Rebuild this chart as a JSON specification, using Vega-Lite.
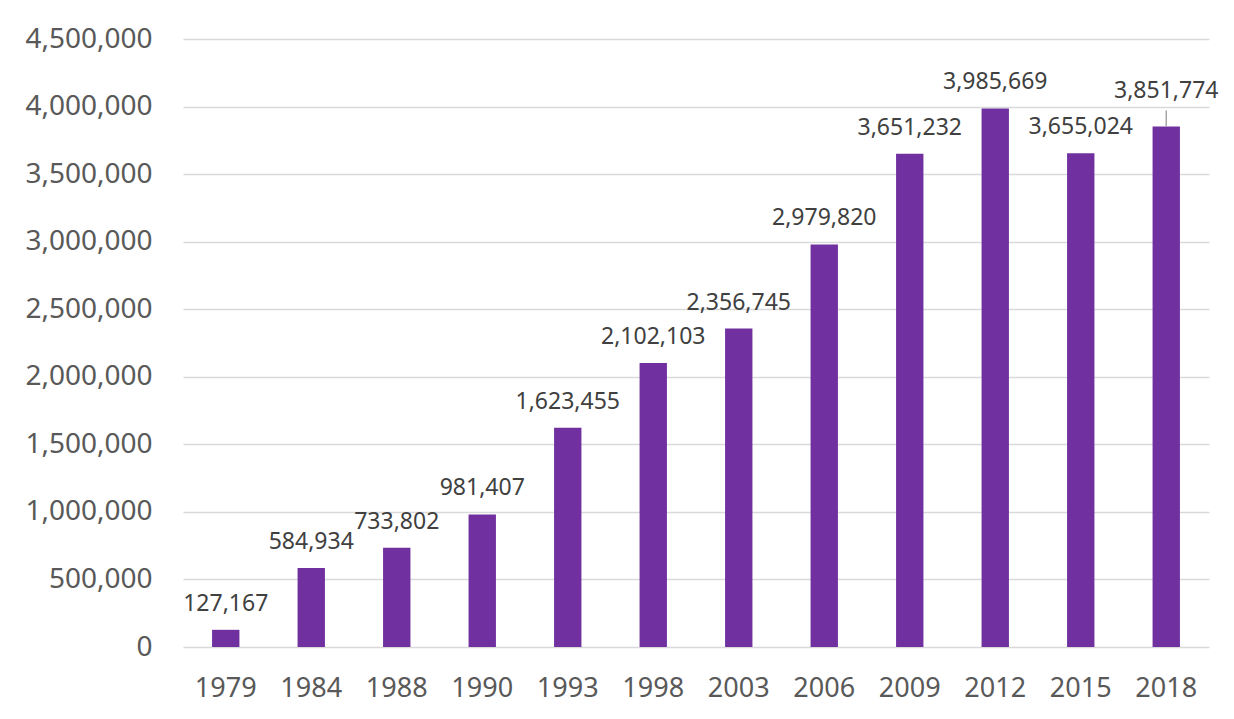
{
  "$schema": "https://vega.github.io/schema/vega-lite/v6.json",
  "width": 1026,
  "height": 608,
  "autosize": {"type": "none"},
  "padding": {"left": 183, "top": 39, "right": 25, "bottom": 72},
  "background": "white",
  "config": {
    "view": {"stroke": null},
    "font": "Noto Sans"
  },
  "data": {
    "values": [
      {"year": "1979", "value": 127167},
      {"year": "1984", "value": 584934},
      {"year": "1988", "value": 733802},
      {"year": "1990", "value": 981407},
      {"year": "1993", "value": 1623455},
      {"year": "1998", "value": 2102103},
      {"year": "2003", "value": 2356745},
      {"year": "2006", "value": 2979820},
      {"year": "2009", "value": 3651232},
      {"year": "2012", "value": 3985669},
      {"year": "2015", "value": 3655024},
      {"year": "2018", "value": 3851774}
    ]
  },
  "encoding": {
    "x": {
      "field": "year",
      "type": "nominal",
      "sort": null,
      "scale": {"paddingInner": 0.68, "paddingOuter": 0.34},
      "axis": {
        "title": null,
        "labelAngle": 0,
        "labelFontSize": 27,
        "labelColor": "#595959",
        "labelFont": "Noto Sans",
        "ticks": false,
        "domain": false,
        "labelPadding": 28
      }
    },
    "y": {
      "field": "value",
      "type": "quantitative",
      "scale": {"domain": [0, 4500000], "nice": false},
      "axis": {
        "title": null,
        "values": [0, 500000, 1000000, 1500000, 2000000, 2500000, 3000000, 3500000, 4000000, 4500000],
        "format": ",d",
        "labelFontSize": 28,
        "labelColor": "#595959",
        "labelFont": "Noto Sans",
        "ticks": false,
        "domain": false,
        "labelPadding": 31,
        "gridColor": "#d9d9d9",
        "gridWidth": 1.5
      }
    }
  },
  "layer": [
    {
      "mark": {"type": "bar", "color": "#7030A0"}
    },
    {
      "transform": [{"filter": "datum.year !== '2018'"}],
      "mark": {"type": "text", "baseline": "alphabetic", "dy": -19, "fontSize": 23, "color": "#404040", "font": "Noto Sans"},
      "encoding": {"text": {"field": "value", "type": "quantitative", "format": ",d"}}
    },
    {
      "transform": [{"filter": "datum.year === '2018'"}],
      "mark": {"type": "text", "baseline": "alphabetic", "dy": -29, "fontSize": 23, "color": "#404040", "font": "Noto Sans"},
      "encoding": {"text": {"field": "value", "type": "quantitative", "format": ",d"}}
    },
    {
      "transform": [{"filter": "datum.year === '2018'"}],
      "mark": {"type": "rule", "color": "#a6a6a6", "strokeWidth": 1.5, "y2Offset": -16},
      "encoding": {"y2": {"field": "value"}}
    }
  ]
}
